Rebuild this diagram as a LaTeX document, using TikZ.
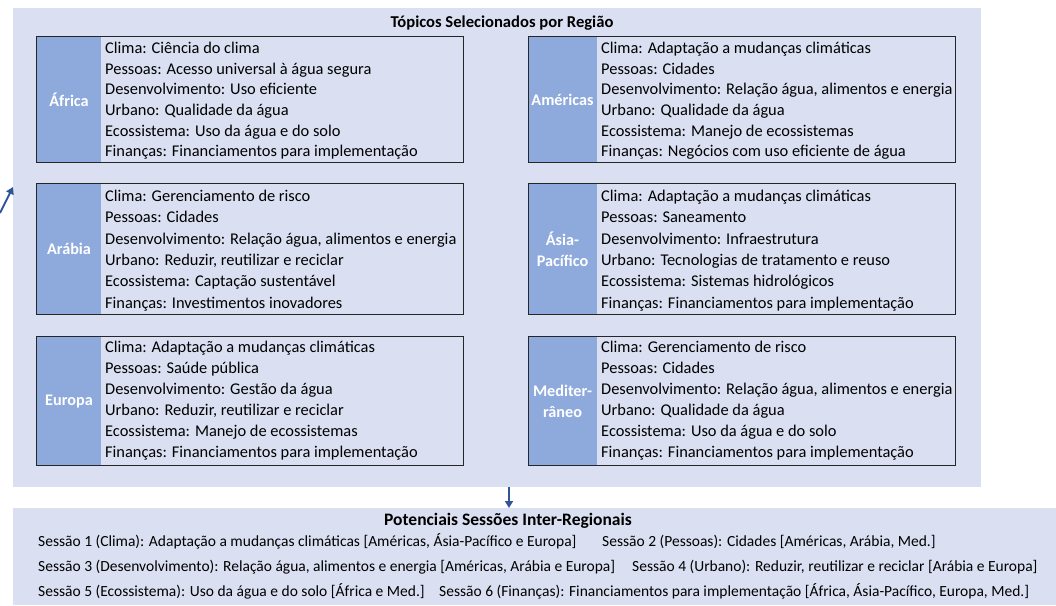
\documentclass[tikz,border=0pt]{standalone}
\usepackage{fontspec}
\setmainfont{Carlito}
\usetikzlibrary{arrows.meta}
\definecolor{panel}{HTML}{DAE0F2}
\definecolor{lab}{HTML}{8EA9DB}
\definecolor{arr}{HTML}{2F5597}
\tikzset{
  x=1pt, y=-1pt,
  panelbox/.style={fill=panel, draw=none, inner sep=0pt, anchor=north west},
  frame/.style={draw=black!85, line width=1pt},
  labcol/.style={fill=lab},
  labtext/.style={text=white, font=\fontsize{16.2}{21}\selectfont\bfseries, align=center, inner sep=0pt},
  bodyline/.style={anchor=base west, inner sep=0pt, font=\fontsize{16.4}{20}\selectfont},
  ptitle/.style={font=\fontsize{16.6}{20}\selectfont\bfseries, inner sep=0pt, anchor=base},
  sess/.style={font=\fontsize{15.5}{18}\selectfont, inner sep=0pt, anchor=base west},
  conn/.style={draw=arr, line width=1.8pt, -{Triangle[width=8pt,length=7pt]}}
}
% name, x, first baseline, spacing, list of lines
\newcommand\boxlines[5]{%
  \foreach \t [count=\i from 0] in {#5} {\node[bodyline] (#1\i) at (#2,#3+#4*\i) {\t};}%
}
\begin{document}
\begin{tikzpicture}
\useasboundingbox (0,0) rectangle (1056,605);
% panels
\node[panelbox, minimum width=968pt, minimum height=479pt] (top) at (13,8) {};
\node[panelbox, minimum width=1043pt, minimum height=97pt] (bot) at (13,508) {};
\node[ptitle] (toptitle) at (502,27.3) {Tópicos Selecionados por Região};
\node[ptitle, font=\fontsize{17.5}{20}\selectfont\bfseries] (bottitle) at (508,525.7) {Potenciais Sessões Inter-Regionais};
% Africa
\fill[labcol] (36,36) rectangle (101,162);
\draw[frame] (36,36) rectangle (463,162);
\node[labtext] (afl) at (69,100) {África};
\boxlines{af}{105}{53.3}{20.7}{Clima: Ciência do clima, Pessoas: Acesso universal à água segura, Desenvolvimento: Uso eficiente, Urbano: Qualidade da água, Ecossistema: Uso da água e do solo, Finanças: Financiamentos para implementação}
% Arabia
\fill[labcol] (36,183) rectangle (101,314);
\draw[frame] (36,183) rectangle (463,314);
\node[labtext] (arl) at (69,249) {Arábia};
\boxlines{ar}{105}{201.5}{21.3}{Clima: Gerenciamento de risco, Pessoas: Cidades, {Desenvolvimento: Relação água, alimentos e energia}, {Urbano: Reduzir, reutilizar e reciclar}, Ecossistema: Captação sustentável, Finanças: Investimentos inovadores}
% Europa
\fill[labcol] (36,336) rectangle (101,465);
\draw[frame] (36,336) rectangle (463,465);
\node[labtext] (eul) at (69,401.5) {Europa};
\boxlines{eu}{105}{352.7}{21}{Clima: Adaptação a mudanças climáticas, Pessoas: Saúde pública, Desenvolvimento: Gestão da água, {Urbano: Reduzir, reutilizar e reciclar}, Ecossistema: Manejo de ecossistemas, Finanças: Financiamentos para implementação}
% Americas
\fill[labcol] (528,36) rectangle (597,162);
\draw[frame] (528,36) rectangle (955,162);
\node[labtext] (aml) at (562.5,100) {Américas};
\boxlines{am}{601}{53.3}{20.7}{Clima: Adaptação a mudanças climáticas, Pessoas: Cidades, {Desenvolvimento: Relação água, alimentos e energia}, Urbano: Qualidade da água, Ecossistema: Manejo de ecossistemas, Finanças: Negócios com uso eficiente de água}
% Asia-Pacifico
\fill[labcol] (528,183) rectangle (597,314);
\draw[frame] (528,183) rectangle (955,314);
\node[labtext] (apl) at (562.5,249) {Ásia-\\Pacífico};
\boxlines{ap}{601}{201.5}{21.3}{Clima: Adaptação a mudanças climáticas, Pessoas: Saneamento, Desenvolvimento: Infraestrutura, Urbano: Tecnologias de tratamento e reuso, Ecossistema: Sistemas hidrológicos, Finanças: Financiamentos para implementação}
% Mediterraneo
\fill[labcol] (528,336) rectangle (597,465);
\draw[frame] (528,336) rectangle (955,465);
\node[labtext] (mel) at (562.5,401.5) {Mediter-\\râneo};
\boxlines{me}{601}{352.7}{21}{Clima: Gerenciamento de risco, Pessoas: Cidades, {Desenvolvimento: Relação água, alimentos e energia}, Urbano: Qualidade da água, Ecossistema: Uso da água e do solo, Finanças: Financiamentos para implementação}
% sessions
\node[sess] (s1) at (38,546.7) {Sessão 1 (Clima): Adaptação a mudanças climáticas [Américas, Ásia-Pacífico e Europa]};
\node[sess] (s2) at (602,546.7) {Sessão 2 (Pessoas): Cidades [Américas, Arábia, Med.]};
\node[sess] (s3) at (38,571) {Sessão 3 (Desenvolvimento): Relação água, alimentos e energia [Américas, Arábia e Europa]};
\node[sess] (s4) at (632,571) {Sessão 4 (Urbano): Reduzir, reutilizar e reciclar [Arábia e Europa]};
\node[sess] (s5) at (38,596.7) {Sessão 5 (Ecossistema): Uso da água e do solo [África e Med.]};
\node[sess] (s6) at (439,596.7) {Sessão 6 (Finanças): Financiamentos para implementação [África, Ásia-Pacífico, Europa, Med.]};
% connectors
\draw[conn] (top.south -| 509,0) -- (bot.north -| 509,0);
\coordinate (src) at (0,213);
\coordinate (inl) at (13,187);
\draw[conn] (src) -- (inl);
\end{tikzpicture}
\end{document}
